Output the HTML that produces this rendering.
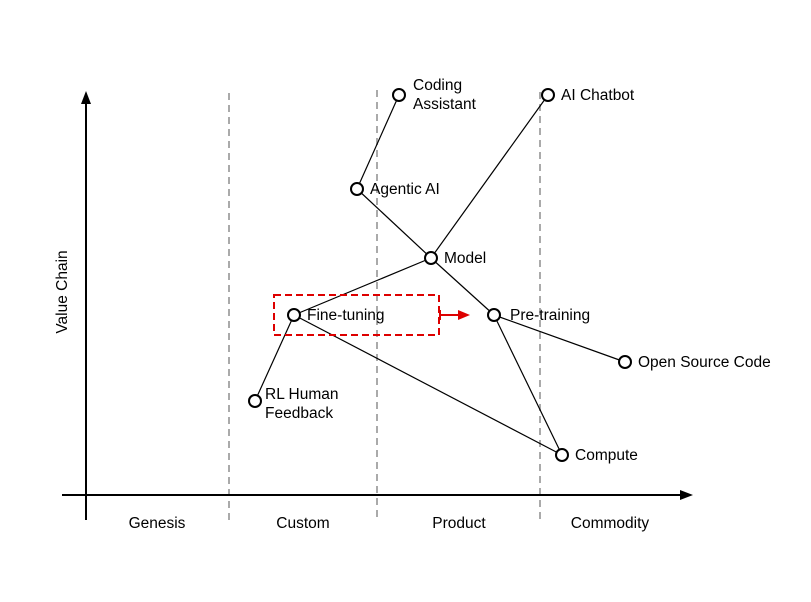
<!DOCTYPE html><html><head><style>body{margin:0;background:#fff}</style></head><body>
<svg width="811" height="597" xmlns="http://www.w3.org/2000/svg" font-family="Liberation Sans, sans-serif" font-size="15.5">
<g stroke="#aaa" stroke-width="2" stroke-dasharray="7,5"><line x1="229" y1="93" x2="229" y2="520"/><line x1="377" y1="90" x2="377" y2="520"/><line x1="540" y1="92" x2="540" y2="520"/></g>
<g stroke="#000" stroke-width="2"><line x1="86" y1="520" x2="86" y2="100"/><line x1="62" y1="495" x2="682" y2="495"/></g>
<polygon points="86,91 81,104 91,104" fill="#000"/><polygon points="693,495 680,490 680,500" fill="#000"/>
<text x="67" y="292" transform="rotate(-90 67 292)" text-anchor="middle">Value Chain</text>
<g text-anchor="middle"><text x="157" y="528">Genesis</text><text x="303" y="528">Custom</text><text x="459" y="528">Product</text><text x="610" y="528">Commodity</text></g>
<g stroke="#000" stroke-width="1.2">
<line x1="399" y1="95" x2="357" y2="189"/><line x1="357" y1="189" x2="431" y2="258"/><line x1="548" y1="95" x2="431" y2="258"/>
<line x1="431" y1="258" x2="294" y2="315"/><line x1="431" y1="258" x2="494" y2="315"/><line x1="294" y1="315" x2="255" y2="401"/>
<line x1="294" y1="315" x2="562" y2="455"/><line x1="494" y1="315" x2="562" y2="455"/><line x1="494" y1="315" x2="625" y2="362"/></g>
<rect x="274" y="295" width="165" height="40" fill="none" stroke="#d00" stroke-width="2" stroke-dasharray="7,4"/>
<g stroke="#d00" stroke-width="2"><line x1="440" y1="315" x2="460" y2="315"/><line x1="440" y1="310" x2="440" y2="320"/></g>
<polygon points="470,315 458,310 458,320" fill="#d00"/>
<g fill="#fff" stroke="#000" stroke-width="2">
<circle cx="399" cy="95" r="6"/><circle cx="548" cy="95" r="6"/><circle cx="357" cy="189" r="6"/><circle cx="431" cy="258" r="6"/><circle cx="294" cy="315" r="6"/><circle cx="494" cy="315" r="6"/><circle cx="625" cy="362" r="6"/><circle cx="255" cy="401" r="6"/><circle cx="562" cy="455" r="6"/></g>
<text x="413" y="90">Coding</text><text x="413" y="109">Assistant</text><text x="561" y="100">AI Chatbot</text><text x="370" y="194">Agentic AI</text><text x="444" y="263">Model</text><text x="307" y="320">Fine-tuning</text><text x="510" y="320">Pre-training</text><text x="638" y="367">Open Source Code</text><text x="265" y="399">RL Human</text><text x="265" y="418">Feedback</text><text x="575" y="460">Compute</text>
</svg></body></html>
